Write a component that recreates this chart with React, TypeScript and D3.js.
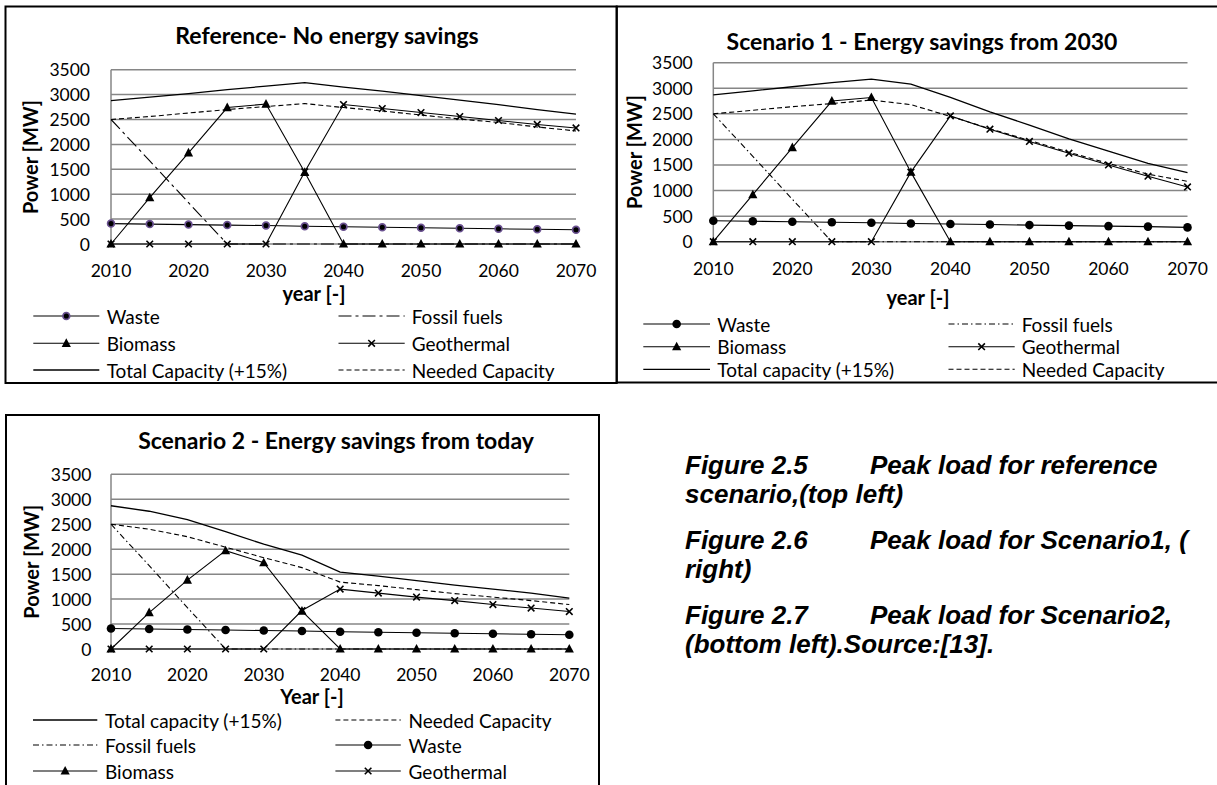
import React from "react";
import * as d3 from "d3";

// ---------- DATA ----------
const years = [2010, 2015, 2020, 2025, 2030, 2035, 2040, 2045, 2050, 2055, 2060, 2065, 2070];
const xTickYears = [2010, 2020, 2030, 2040, 2050, 2060, 2070];
const yTicks = [0, 500, 1000, 1500, 2000, 2500, 3000, 3500];

// Reference - No energy savings
const refWaste = [410, 400, 390, 380, 370, 355, 345, 335, 325, 315, 305, 295, 285];
const refFossil = [2500, 1670, 830, 0, 0, 0, 0, 0, 0, 0, 0, 0, 0];
const refBiomass = [0, 930, 1830, 2740, 2810, 1440, 0, 0, 0, 0, 0, 0, 0];
const refGeothermal = [0, 0, 0, 0, 0, 1450, 2800, 2720, 2640, 2560, 2480, 2400, 2330];
const refTotal = [2880, 2950, 3020, 3100, 3170, 3240, 3150, 3070, 2980, 2890, 2800, 2700, 2610];
const refNeeded = [2500, 2560, 2630, 2700, 2760, 2820, 2740, 2670, 2590, 2510, 2440, 2350, 2270];

// Scenario 1 - Energy savings from 2030
const s1Waste = [410, 400, 390, 380, 370, 355, 345, 335, 325, 315, 305, 295, 280];
const s1Fossil = [2500, 1670, 830, 0, 0, 0, 0, 0, 0, 0, 0, 0, 0];
const s1Biomass = [0, 920, 1840, 2750, 2820, 1360, 0, 0, 0, 0, 0, 0, 0];
const s1Geothermal = [0, 0, 0, 0, 0, 1360, 2460, 2200, 1960, 1730, 1500, 1280, 1070];
const s1Total = [2870, 2950, 3030, 3110, 3180, 3080, 2820, 2540, 2280, 2010, 1770, 1530, 1350];
const s1Needed = [2500, 2570, 2640, 2700, 2770, 2680, 2450, 2210, 1980, 1750, 1530, 1320, 1180];

// Scenario 2 - Energy savings from today
const s2Waste = [410, 400, 390, 380, 370, 360, 345, 335, 325, 315, 305, 295, 285];
const s2Fossil = [2500, 1670, 830, 0, 0, 0, 0, 0, 0, 0, 0, 0, 0];
const s2Biomass = [0, 730, 1380, 1970, 1730, 760, 0, 0, 0, 0, 0, 0, 0];
const s2Geothermal = [0, 0, 0, 0, 0, 770, 1200, 1120, 1040, 970, 890, 820, 750];
const s2Total = [2870, 2760, 2590, 2350, 2100, 1880, 1540, 1460, 1370, 1280, 1200, 1120, 1020];
const s2Needed = [2500, 2400, 2250, 2040, 1830, 1630, 1340, 1270, 1190, 1110, 1040, 970, 890];

const captionLines = [
  ["Figure 2.5", "Peak load for reference"],
  ["scenario,(top left)", ""],
  ["Figure 2.6", "Peak load for Scenario1, ("],
  ["right)", ""],
  ["Figure 2.7", "Peak load for Scenario2,"],
  ["(bottom left).Source:[13].", ""],
];

// ---------- STYLE / LAYOUT ----------
const FONT = "Lato, 'Open Sans', sans-serif";
const GRID = "#868686";

type Kind = "waste" | "fossil" | "biomass" | "geo" | "total" | "needed";
type Series = { name: string; kind: Kind; values: number[]; row: number; col: number };

type Layout = {
  box: [number, number, number, number];
  x0: number; x1: number; yBot: number; yTop: number;
  tickRight: number; xLabelY: number;
  title: { x: number; y: number; text: string };
  xTitle: { x: number; y: number; text: string };
  yTitle: { x: number; y: number };
  cols: { l0: number; l1: number; t: number }[];
  rows: number[];
  purpleWaste: boolean;
  fossilDash: string;
};

const layout1: Layout = {
  box: [5.5, 6.5, 616.7, 383],
  x0: 111, x1: 576, yBot: 244, yTop: 69.7,
  tickRight: 90, xLabelY: 277,
  title: { x: 327, y: 43.5, text: "Reference- No energy savings" },
  xTitle: { x: 314, y: 300.5, text: "year [-]" },
  yTitle: { x: 30, y: 157 },
  cols: [{ l0: 33.3, l1: 99.3, t: 106.7 }, { l0: 338.5, l1: 404.7, t: 411.7 }],
  rows: [316, 343.3, 370],
  purpleWaste: true,
  fossilDash: "13,4,3,4",
};

const layout2: Layout = {
  box: [616.7, 6.5, 1225, 382.5],
  x0: 713.3, x1: 1187.5, yBot: 241.7, yTop: 62.7,
  tickRight: 692.7, xLabelY: 275,
  title: { x: 922, y: 50, text: "Scenario 1 - Energy savings from 2030" },
  xTitle: { x: 918, y: 305, text: "year [-]" },
  yTitle: { x: 634, y: 152 },
  cols: [{ l0: 643.3, l1: 710, t: 717.3 }, { l0: 948.5, l1: 1014.7, t: 1021.7 }],
  rows: [324, 346.7, 369.3],
  purpleWaste: false,
  fossilDash: "6,3,1.5,3",
};

const layout3: Layout = {
  box: [6, 415, 599, 795],
  x0: 111, x1: 569.3, yBot: 649, yTop: 474.3,
  tickRight: 91.4, xLabelY: 680.7,
  title: { x: 336, y: 448.5, text: "Scenario 2 - Energy savings from today" },
  xTitle: { x: 312, y: 704, text: "Year [-]" },
  yTitle: { x: 31, y: 561.7 },
  cols: [{ l0: 33, l1: 97.3, t: 105 }, { l0: 335.4, l1: 400.8, t: 408.6 }],
  rows: [720, 745, 771],
  purpleWaste: false,
  fossilDash: "6,3,1.5,3",
};

const series1: Series[] = [
  { name: "Waste", kind: "waste", values: refWaste, row: 0, col: 0 },
  { name: "Fossil fuels", kind: "fossil", values: refFossil, row: 0, col: 1 },
  { name: "Biomass", kind: "biomass", values: refBiomass, row: 1, col: 0 },
  { name: "Geothermal", kind: "geo", values: refGeothermal, row: 1, col: 1 },
  { name: "Total Capacity (+15%)", kind: "total", values: refTotal, row: 2, col: 0 },
  { name: "Needed Capacity", kind: "needed", values: refNeeded, row: 2, col: 1 },
];
const series2: Series[] = [
  { name: "Waste", kind: "waste", values: s1Waste, row: 0, col: 0 },
  { name: "Fossil fuels", kind: "fossil", values: s1Fossil, row: 0, col: 1 },
  { name: "Biomass", kind: "biomass", values: s1Biomass, row: 1, col: 0 },
  { name: "Geothermal", kind: "geo", values: s1Geothermal, row: 1, col: 1 },
  { name: "Total capacity (+15%)", kind: "total", values: s1Total, row: 2, col: 0 },
  { name: "Needed Capacity", kind: "needed", values: s1Needed, row: 2, col: 1 },
];
const series3: Series[] = [
  { name: "Total capacity (+15%)", kind: "total", values: s2Total, row: 0, col: 0 },
  { name: "Needed Capacity", kind: "needed", values: s2Needed, row: 0, col: 1 },
  { name: "Fossil fuels", kind: "fossil", values: s2Fossil, row: 1, col: 0 },
  { name: "Waste", kind: "waste", values: s2Waste, row: 1, col: 1 },
  { name: "Biomass", kind: "biomass", values: s2Biomass, row: 2, col: 0 },
  { name: "Geothermal", kind: "geo", values: s2Geothermal, row: 2, col: 1 },
];

function Marker({ kind, x, y, purple }: { kind: Kind; x: number; y: number; purple: boolean }) {
  if (kind === "waste") {
    return purple ? (
      <circle cx={x} cy={y} r={3.4} fill="#000" stroke="#6a5190" strokeWidth={1.7} />
    ) : (
      <circle cx={x} cy={y} r={4.3} fill="#000" />
    );
  }
  if (kind === "biomass") {
    return <path d={`M${x},${y - 5}L${x + 4.6},${y + 3.6}L${x - 4.6},${y + 3.6}Z`} fill="#000" />;
  }
  if (kind === "geo") {
    const a = 3.3;
    return (
      <path d={`M${x - a},${y - a}L${x + a},${y + a}M${x - a},${y + a}L${x + a},${y - a}`} stroke="#000" strokeWidth={1.6} fill="none" />
    );
  }
  return null;
}

function lineStyle(kind: Kind, L: Layout) {
  switch (kind) {
    case "fossil":
      return { strokeDasharray: L.fossilDash, strokeWidth: 1.1 };
    case "needed":
      return { strokeDasharray: "5,3", strokeWidth: 1.1 };
    case "total":
      return { strokeDasharray: undefined, strokeWidth: 1.3 };
    default:
      return { strokeDasharray: undefined, strokeWidth: 1.1 };
  }
}

function Chart({ L, series }: { L: Layout; series: Series[] }) {
  const x = d3.scaleLinear().domain([2010, 2070]).range([L.x0, L.x1]);
  const y = d3.scaleLinear().domain([0, 3500]).range([L.yBot, L.yTop]);
  const line = d3
    .line<number>()
    .x((_, i) => x(years[i]))
    .y((v) => y(v));
  const [bx0, by0, bx1, by1] = L.box;
  return (
    <g fontFamily={FONT} fill="#000">
      <rect x={bx0} y={by0} width={bx1 - bx0} height={by1 - by0} fill="none" stroke="#000" strokeWidth={2} />
      <text x={L.title.x} y={L.title.y} textAnchor="middle" fontWeight="bold" fontSize={23}>
        {L.title.text}
      </text>
      {/* gridlines */}
      {yTicks.map((t) => (
        <line key={t} x1={L.x0} x2={L.x1} y1={y(t)} y2={y(t)} stroke={GRID} strokeWidth={1.5} />
      ))}
      <line x1={L.x0} x2={L.x0} y1={y(3500)} y2={y(0)} stroke={GRID} strokeWidth={1.5} />
      {/* y tick labels */}
      {yTicks.map((t) => (
        <text key={t} x={L.tickRight} y={y(t)} textAnchor="end" dominantBaseline="central" fontSize={17.5}>
          {t}
        </text>
      ))}
      {/* x tick labels */}
      {xTickYears.map((t) => (
        <text key={t} x={x(t)} y={L.xLabelY} textAnchor="middle" fontSize={17.5}>
          {t}
        </text>
      ))}
      <text x={L.xTitle.x} y={L.xTitle.y} textAnchor="middle" fontWeight="bold" fontSize={20}>
        {L.xTitle.text}
      </text>
      <text
        transform={`translate(${L.yTitle.x},${L.yTitle.y}) rotate(-90)`}
        textAnchor="middle"
        dominantBaseline="central"
        fontWeight="bold"
        fontSize={20}
      >
        Power [MW]
      </text>
      {/* series */}
      {series.map((s) => {
        const st = lineStyle(s.kind, L);
        return (
          <g key={s.name}>
            <path d={line(s.values) || ""} fill="none" stroke="#000" strokeWidth={st.strokeWidth} strokeDasharray={st.strokeDasharray} />
            {s.values.map((v, i) => (
              <Marker key={i} kind={s.kind} x={x(years[i])} y={y(v)} purple={L.purpleWaste} />
            ))}
          </g>
        );
      })}
      {/* legend */}
      {series.map((s) => {
        const c = L.cols[s.col];
        const ry = L.rows[s.row];
        const st = lineStyle(s.kind, L);
        return (
          <g key={"lg" + s.name}>
            <line x1={c.l0} x2={c.l1} y1={ry} y2={ry} stroke="#000" strokeWidth={st.strokeWidth} strokeDasharray={st.strokeDasharray} />
            <Marker kind={s.kind} x={(c.l0 + c.l1) / 2} y={ry} purple={L.purpleWaste} />
            <text x={c.t} y={ry} dominantBaseline="central" fontSize={19}>
              {s.name}
            </text>
          </g>
        );
      })}
    </g>
  );
}

export default function App() {
  const capY = [474, 503, 549, 578, 624, 653];
  return (
    <svg width={1217} height={785} style={{ position: "absolute", left: 0, top: 0, background: "#fff", display: "block" }}>
      <rect x={0} y={0} width={1217} height={785} fill="#fff" />
      <Chart L={layout1} series={series1} />
      <Chart L={layout2} series={series2} />
      <Chart L={layout3} series={series3} />
      <g fontFamily="'Liberation Sans', Arial, sans-serif" fontWeight="bold" fontStyle="italic" fontSize={26} fill="#000">
        {captionLines.map((ln, i) => (
          <g key={i}>
            <text x={685} y={capY[i]}>{ln[0]}</text>
            {ln[1] && <text x={870} y={capY[i]}>{ln[1]}</text>}
          </g>
        ))}
      </g>
    </svg>
  );
}
